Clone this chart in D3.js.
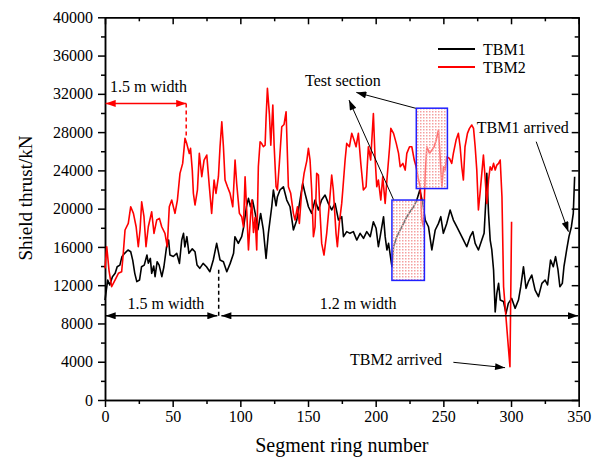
<!DOCTYPE html>
<html lang="en">
<head>
<meta charset="UTF-8">
<title>Shield thrust - TBM1 / TBM2</title>
<script src="https://d3js.org/d3.v7.min.js"></script>
<style>
  body { margin: 0; background: #fff; }
  text { font-family: "Liberation Serif", "Times New Roman", serif; fill: #000; }
  .axis path, .axis line { stroke: #000; stroke-width: 1.5; }
  .series { fill: none; stroke-width: 1.6; stroke-linejoin: round; }
</style>
</head>
<body>
<svg width="601" height="463"></svg>
<script>
// [ring number, shield thrust kN]
const tbm1 = [
  [0,10450],[1,11500],[2,12540],[3.5,12020],[5.5,12890],[7.5,13240],[9,13930],[11,14100],
  [12.5,14980],[14.5,15330],[17,15680],[19,15500],[20.5,14600],[22,13240],[23.5,12370],[25.5,12540],
  [27,13930],[29,14100],[31,15150],[32,14300],[33.5,14800],[34.5,13240],[36,14000],[37,12890],
  [38.5,14450],[40,14100],[42,12890],[43.5,13900],[45.5,16020],[47,16720],[48,15150],[50.5,15000],
  [53,15330],[55,14280],[56.7,16720],[58,17420],[59,16000],[60.5,17070],[62,15330],[64.5,15800],
  [66.5,15500],[68,14110],[70,13760],[72.5,14280],[75,13930],[77.5,13410],[80,14630],[82.5,16370],
  [85,14630],[87.5,14450],[90,13410],[92.5,14280],[95,15330],[96,17070],[98.5,16370],[101,17070],
  [102.5,18110],[104.5,20200],[106,21080],[107.5,20200],[109,20900],[111,19510],[113,17800],[115,19500],
  [117,17770],[119,14800],[120.7,17420],[123.2,20200],[124.4,21950],[126.4,20300],[127.4,21250],[129.3,21950],
  [131.8,22290],[134.3,20900],[136.7,20200],[139.2,17770],[141.7,18810],[144.1,20900],[146.1,22640],[147.8,21600],
  [150.3,20200],[152.7,19510],[155.2,20900],[157.7,19860],[160,20900],[162.6,21420],[165,20550],[167.5,19860],
  [170,20550],[172.5,18810],[174.9,19160],[176.2,17070],[178.6,17600],[181,17420],[183.5,17600],[186,16720],
  [188.5,17420],[191,16900],[193.4,17600],[196,17070],[198.3,18630],[200.3,17950],[202,16020],[203.3,17070],
  [205.8,19160],[207,17070],[208.3,15680],[209.5,16370],[212,13930],[213.2,16020],[215.6,17070],[218.1,17770],
  [220.6,18460],[223,19160],[225.5,19700],[228,20200],[230.4,20900],[232.6,21950],[234.8,20550],[236.6,18810],
  [239,18110],[241.5,15680],[244,17770],[246.4,18460],[248.1,19160],[250,17420],[252.5,18460],[255,19860],
  [257.4,18810],[259.9,18110],[262.4,17420],[264.9,16720],[267.3,16020],[269.8,17070],[271.8,17600],[273.5,16370],
  [275.9,15680],[278.4,16720],[280.1,17420],[281.4,20900],[282.1,23690],[283.4,19500],[284.6,16720],[285.8,15680],
  [287.1,13590],[288.3,9200],[289.5,11150],[290.8,12190],[292,10450],[294.4,10300],[296.3,9060],[298,10100],
  [300.5,10620],[303,9580],[305.5,10450],[307.2,11840],[309.2,13930],[311.1,11670],[312.8,12370],[315.3,13060],
  [317.8,11490],[320.3,10800],[322.8,12190],[325.2,12540],[327,12020],[329.2,14630],[331.2,13930],[332.9,14980],
  [334.7,13590],[336.1,11840],[337.9,12190],[339.1,13930],[341.1,15680],[342.8,17070],[344.6,18110],[346,19510],
  [347,23340]
];

const tbm2 = [
  [0,13760],[1.3,16020],[3,13500],[4.9,11840],[7.4,12540],[9.9,13240],[12.3,13400],[13.5,15330],
  [14.8,17770],[17.2,18460],[19,20200],[21,19510],[23,18110],[24.6,16020],[25.9,17770],[27.1,20720],
  [28.8,19160],[30.3,16020],[32,18110],[34.5,19680],[36.2,17420],[38.2,18810],[40.2,18980],[41.9,18110],
  [44.3,17420],[46,16020],[47.5,20200],[49.3,20900],[51.7,19510],[53.5,20900],[55.4,23690],[57.4,24730],
  [59.1,27350],[60.4,26800],[62.3,25770],[63.2,26300],[64.5,24000],[65.3,21600],[66.5,20380],[68.3,21950],
  [69.7,25780],[71.5,23340],[73.2,25080],[75.2,25600],[77.1,22290],[78.8,19510],[80.6,22990],[82,21600],
  [83.8,23340],[85,26470],[86.3,29080],[87.5,26470],[88.7,22990],[90.5,22290],[92.4,21600],[94.4,20200],
  [96.1,25080],[97.3,22600],[99.3,19510],[101,19160],[102.3,18100],[103.5,23340],[104.7,19800],[106,15680],
  [107.2,18500],[108.4,20900],[109.7,17500],[110.9,19100],[112.1,15680],[113.3,24380],[114.6,26990],[115.8,26800],
  [117,26470],[118.3,26640],[119,29430],[120,32570],[121.5,29800],[122.5,26640],[124,30830],[125,26500],
  [126.4,22290],[127.4,21950],[128.8,24700],[130.6,28560],[132.3,28800],[133.8,30130],[135.5,22290],[137.2,21600],
  [139.2,19510],[140.4,18810],[142.2,20200],[143.6,18460],[145.4,21950],[147.1,23690],[149.1,25000],[150.3,26300],
  [151.5,25080],[152.7,21950],[154,17070],[155.2,18100],[156.4,23690],[157.7,23500],[158.9,19510],[160.1,16370],
  [161.8,15150],[163.8,17420],[165.8,20550],[167.5,23510],[168.7,21950],[170.7,17420],[171.7,16020],[173.1,18460],
  [174.9,20550],[175.7,21950],[177.4,25080],[178.6,26820],[180.6,26470],[182.3,27870],[184,27170],[185.5,26470],
  [187.2,27870],[189,24730],[190.9,21950],[192.9,22290],[194.6,26470],[196.3,25080],[198.3,29950],[199.5,25430],
  [200.8,22290],[202,22990],[203.8,20900],[205.2,23340],[207,20550],[208.3,22990],[210.3,26470],[211.2,28400],
  [213.2,27870],[215.2,26820],[216.9,25780],[218.1,24380],[220.1,24730],[221.8,24030],[223,25780],[225,26470],
  [226.7,26470],[228.5,25080],[229.9,24380],[231.7,22990],[232.9,22290],[234.1,18810],[235.3,18110],[236.6,23690],
  [237.8,26470],[239.8,25780],[241.5,26120],[243.2,26470],[244.7,27170],[246.4,28220],[247.6,25430],[248.9,22290],
  [250.1,24380],[251.3,24030],[252.5,25430],[254.5,25260],[256.2,24730],[257.4,25780],[259.4,27170],[261.1,27870],
  [262.4,26470],[263.6,24380],[264.8,22990],[266,26470],[267.8,27870],[269.3,28390],[271,28740],[272.3,28390],
  [273.5,26470],[274.7,24030],[275.9,19860],[277.1,21600],[278.4,23690],[279.6,25600],[280.8,23340],[282.1,20550],
  [283.4,23000],[284.6,24380],[285.8,24030],[287.1,24730],[288.3,24030],[289.5,24550],[290.8,24730],[292,25080],
  [293.3,21250],[294.5,11840],[296.4,8400],[298,5570],[299.2,3480],[300.4,18630]
];

const seriesNames = ["TBM1", "TBM2"];
const seriesColors = ["#000000", "#ff0000"];
const xTicks = [0, 50, 100, 150, 200, 250, 300, 350];
const yTicks = [0, 4000, 8000, 12000, 16000, 20000, 24000, 28000, 32000, 36000, 40000];
// test section rectangles [ring from, ring to, thrust low, thrust high]
const testBoxes = [[230, 253, 22100, 30500], [212, 236, 12500, 20900]];

const svg = d3.select("svg");
const x = d3.scaleLinear().domain([0, 350]).range([105, 578.7]);
const y = d3.scaleLinear().domain([0, 40000]).range([400, 17.3]);

const defs = svg.append("defs");
function marker(id, color) {
  defs.append("marker")
    .attr("id", id).attr("viewBox", "0 0 10 7")
    .attr("refX", 10).attr("refY", 3.5)
    .attr("markerWidth", 11).attr("markerHeight", 7)
    .attr("markerUnits", "userSpaceOnUse")
    .attr("orient", "auto-start-reverse")
    .append("path").attr("d", "M0,0 L10,3.5 L0,7 Z").attr("fill", color);
}
marker("arrBlack", "#000");
marker("arrRed", "#f00");

// light dotted pink fill for the test boxes
const dots = defs.append("pattern").attr("id", "dots")
  .attr("width", 3).attr("height", 3).attr("patternUnits", "userSpaceOnUse");
dots.append("rect").attr("width", 3).attr("height", 3).attr("fill", "#fff").attr("fill-opacity", 0.45);
dots.append("rect").attr("width", 1.5).attr("height", 1.5).attr("fill", "#f4a0a0");

// axes
const minorX = d3.range(0, 351, 25).filter(v => v % 50);
const minorY = d3.range(0, 40001, 2000).filter(v => v % 4000);

function styleAxis(g) {
  g.attr("class", "axis");
  g.selectAll("text")
    .attr("font-family", "'Liberation Serif', 'Times New Roman', serif")
    .attr("font-size", 16).attr("fill", "#000");
}

svg.append("g").attr("transform", `translate(0,${y(0)})`)
  .call(d3.axisBottom(x).tickValues(xTicks).tickFormat(d3.format("d"))
    .tickSizeInner(7).tickSizeOuter(0).tickPadding(4)).call(styleAxis);
svg.append("g").attr("transform", `translate(0,${y(0)})`)
  .call(d3.axisBottom(x).tickValues(minorX).tickFormat("").tickSizeInner(4).tickSizeOuter(0)).call(styleAxis);
svg.append("g").attr("transform", `translate(0,${y(40000)})`)
  .call(d3.axisTop(x).tickValues(xTicks).tickFormat("").tickSizeInner(-7).tickSizeOuter(0)).call(styleAxis);
svg.append("g").attr("transform", `translate(0,${y(40000)})`)
  .call(d3.axisTop(x).tickValues(minorX).tickFormat("").tickSizeInner(-4).tickSizeOuter(0)).call(styleAxis);

svg.append("g").attr("transform", `translate(${x(0)},0)`)
  .call(d3.axisLeft(y).tickValues(yTicks).tickFormat(d3.format("d"))
    .tickSizeInner(7).tickSizeOuter(0).tickPadding(5)).call(styleAxis);
svg.append("g").attr("transform", `translate(${x(0)},0)`)
  .call(d3.axisLeft(y).tickValues(minorY).tickFormat("").tickSizeInner(4).tickSizeOuter(0)).call(styleAxis);
svg.append("g").attr("transform", `translate(${x(350)},0)`)
  .call(d3.axisRight(y).tickValues(yTicks).tickFormat("").tickSizeInner(-7).tickSizeOuter(0)).call(styleAxis);
svg.append("g").attr("transform", `translate(${x(350)},0)`)
  .call(d3.axisRight(y).tickValues(minorY).tickFormat("").tickSizeInner(-4).tickSizeOuter(0)).call(styleAxis);

// axis titles
svg.append("text").attr("x", (x(0) + x(350)) / 2).attr("y", 452)
  .attr("text-anchor", "middle").attr("font-size", 20).text("Segment ring number");
svg.append("text").attr("transform", "translate(32,198) rotate(-90)")
  .attr("text-anchor", "middle").attr("font-size", 19).text("Shield thrust/kN");

// series
const line = d3.line().x(d => x(d[0])).y(d => y(d[1]));
[tbm1, tbm2].forEach((s, i) => {
  svg.append("path").datum(s).attr("class", "series")
    .attr("stroke", seriesColors[i]).attr("d", line);
});

// test section boxes
testBoxes.forEach(b => {
  svg.append("rect")
    .attr("x", x(b[0])).attr("y", y(b[3]))
    .attr("width", x(b[1]) - x(b[0])).attr("height", y(b[2]) - y(b[3]))
    .attr("fill", "url(#dots)").attr("stroke", "#2020ff").attr("stroke-width", 1.5);
});

// annotations
function arrow(x1, y1, x2, y2, color, mk, both, dash, w) {
  const l = svg.append("line")
    .attr("x1", x(x1)).attr("y1", y(y1)).attr("x2", x(x2)).attr("y2", y(y2))
    .attr("stroke", color).attr("stroke-width", w || 1.5);
  if (mk) l.attr("marker-end", `url(#${mk})`);
  if (mk && both) l.attr("marker-start", `url(#${mk})`);
  if (dash) l.attr("stroke-dasharray", dash);
}
function label(t, xv, yv, color, anchor) {
  svg.append("text").attr("x", x(xv)).attr("y", y(yv))
    .attr("font-size", 16).attr("fill", color || "#000")
    .attr("text-anchor", anchor || "start").text(t);
}

// 1.5 m width (TBM2)
arrow(0.5, 31000, 60, 31000, "#f00", "arrRed", true);
arrow(60, 31000, 60, 27400, "#f00", null, false, "4,3");
label("1.5 m width", 3.7, 32200, "#f00");

// 1.5 m / 1.2 m width (TBM1)
arrow(0.5, 8800, 83, 8800, "#000", "arrBlack", true);
arrow(84, 8800, 84, 13800, "#000", null, false, "4,3");
arrow(86, 8800, 349.5, 8800, "#000", "arrBlack", true);
label("1.5 m width", 45, 9550, "#000", "middle");
label("1.2 m width", 187, 9550, "#000", "middle");

// test section
label("Test section", 147.8, 32800);
arrow(229.6, 30490, 185.7, 32150, "#000", "arrBlack", false, null, 1);
arrow(213.1, 20970, 180.3, 31350, "#000", "arrBlack", false, null, 1);

// arrivals
label("TBM1 arrived", 274.7, 27900);
arrow(318.6, 27000, 342.4, 17590, "#000", "arrBlack", false, null, 1);
label("TBM2 arrived", 181.1, 3660);
arrow(257.4, 3940, 295.6, 3380, "#000", "arrBlack", false, null, 1);

// legend
const legend = svg.append("g");
seriesNames.forEach((n, i) => {
  legend.append("line").attr("x1", 438).attr("x2", 475)
    .attr("y1", 49 + i * 18).attr("y2", 49 + i * 18)
    .attr("stroke", seriesColors[i]).attr("stroke-width", 2);
  legend.append("text").attr("x", 483).attr("y", 55 + i * 18)
    .attr("font-size", 16).text(n);
});
</script>
</body>
</html>
